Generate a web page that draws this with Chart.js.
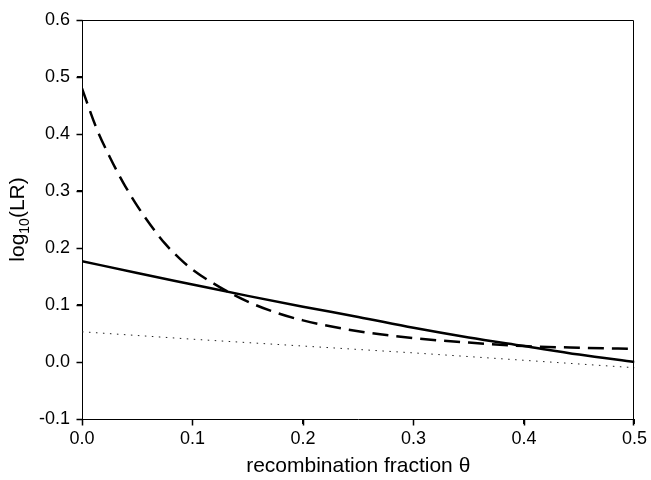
<!DOCTYPE html>
<html>
<head>
<meta charset="utf-8">
<script src="https://cdn.jsdelivr.net/npm/chart.js@4.4.1/dist/chart.umd.min.js"></script>
<style>
  html, body { margin: 0; padding: 0; background: #fff; }
  #wrap { width: 651px; height: 480px; position: relative; }
</style>
</head>
<body>
<div id="wrap"><canvas id="chart-lr"></canvas></div>
<script>
// recombination fraction sample points
const thetaDashed = [0, 0.0125, 0.025, 0.0375, 0.05, 0.0625, 0.075, 0.0875, 0.1, 0.125, 0.15, 0.175, 0.2, 0.25, 0.3, 0.35, 0.4, 0.45, 0.5];
const lrDashed    = [0.480, 0.413, 0.360, 0.314, 0.274, 0.239, 0.208, 0.183, 0.162, 0.131, 0.106, 0.087, 0.073, 0.054, 0.042, 0.034, 0.028, 0.025, 0.023];

const thetaSolid = [0, 0.05, 0.1, 0.15, 0.2, 0.25, 0.3, 0.35, 0.4, 0.45, 0.5];
const lrSolid    = [0.177, 0.156, 0.136, 0.116, 0.097, 0.079, 0.060, 0.043, 0.028, 0.013, 0.000];

const thetaDotted = [0, 0.1, 0.2, 0.3, 0.4, 0.5];
const lrDotted    = [0.053, 0.040, 0.028, 0.016, 0.003, -0.010];

const xTicks = [0, 0.1, 0.2, 0.3, 0.4, 0.5];
const yTicks = [-0.1, 0, 0.1, 0.2, 0.3, 0.4, 0.5, 0.6];

const FONT = "'Liberation Sans', Arial, Helvetica, sans-serif";
const TICK_LEN = 5;

const toPoints = (xs, ys) => xs.map((x, i) => ({ x: x, y: ys[i] }));
const fmt = v => (Math.abs(v) < 1e-9 ? 0 : v).toFixed(1);

// top/right edges of the box plus outward tick marks
const frame = {
    id: 'frame',
    afterDraw(chart) {
        const a = chart.chartArea;
        const ctx = chart.ctx;
        const xs = chart.scales.x;
        const ys = chart.scales.y;
        const l = Math.round(a.left) + 0.5;
        const t = Math.round(a.top) + 0.5;
        const r = Math.round(a.right) - 0.5;
        const b = Math.round(a.bottom) + 0.5;
        ctx.save();
        ctx.strokeStyle = '#000';
        ctx.lineWidth = 1;
        ctx.beginPath();
        ctx.moveTo(l, t);
        ctx.lineTo(r, t);
        ctx.lineTo(r, b);
        ctx.stroke();
        // tick marks
        ctx.lineWidth = 1.5;
        ctx.beginPath();
        xTicks.forEach(v => {
            const px = Math.min(Math.round(xs.getPixelForValue(v)) + 0.5, r);
            ctx.moveTo(px, b);
            ctx.lineTo(px, b + TICK_LEN + 1);
        });
        yTicks.forEach(v => {
            const py = Math.min(Math.round(ys.getPixelForValue(v)) + 0.5, b);
            ctx.moveTo(l, py);
            ctx.lineTo(l - TICK_LEN - 1, py);
        });
        ctx.stroke();
        ctx.restore();
    }
};

// y title with a subscript: log10(LR)
const yTitle = {
    id: 'yTitle',
    afterDraw(chart) {
        const a = chart.chartArea;
        const ctx = chart.ctx;
        const big = '21px ' + FONT;
        const small = '14px ' + FONT;
        ctx.save();
        ctx.fillStyle = '#000';
        ctx.font = big;
        const w1 = ctx.measureText('log').width;
        const w3 = ctx.measureText('(LR)').width;
        ctx.font = small;
        const w2 = ctx.measureText('10').width;
        const total = w1 + w2 + w3;
        ctx.translate(24, (a.top + a.bottom) / 2);
        ctx.rotate(-Math.PI / 2);
        ctx.textBaseline = 'alphabetic';
        ctx.textAlign = 'left';
        let x = -total / 2;
        ctx.font = big;
        ctx.fillText('log', x, 0);
        x += w1;
        ctx.font = small;
        ctx.fillText('10', x, 5);
        x += w2;
        ctx.font = big;
        ctx.fillText('(LR)', x, 0);
        ctx.restore();
    }
};

const gridOpts = {
    display: true,
    drawOnChartArea: false,
    drawTicks: true,
    tickLength: TICK_LEN,
    color: '#000',
    tickColor: '#000',
    lineWidth: 1,
    tickWidth: 1
};

new Chart(document.getElementById('chart-lr'), {
    type: 'line',
    data: {
        datasets: [
            {
                label: 'dashed',
                data: toPoints(thetaDashed, lrDashed),
                borderColor: '#000',
                borderWidth: 2.5,
                borderDash: [16, 8],
                cubicInterpolationMode: 'monotone',
                pointRadius: 0,
                fill: false
            },
            {
                label: 'solid',
                data: toPoints(thetaSolid, lrSolid),
                borderColor: '#000',
                borderWidth: 2.5,
                cubicInterpolationMode: 'monotone',
                pointRadius: 0,
                fill: false
            },
            {
                label: 'dotted',
                data: toPoints(thetaDotted, lrDotted),
                borderColor: '#222',
                borderWidth: 1,
                borderDash: [1.5, 5.5],
                pointRadius: 0,
                fill: false
            }
        ]
    },
    options: {
        responsive: true,
        maintainAspectRatio: false,
        animation: false,
        layout: { padding: { top: 20, right: 15, left: 0, bottom: 0 } },
        plugins: {
            legend: { display: false },
            tooltip: { enabled: false }
        },
        scales: {
            x: {
                type: 'linear',
                min: 0,
                max: 0.5,
                afterFit: s => { s.height = 61; },
                afterBuildTicks: s => { s.ticks = xTicks.map(v => ({ value: v })); },
                ticks: {
                    callback: fmt,
                    color: '#000',
                    padding: 4,
                    maxRotation: 0,
                    font: { family: FONT, size: 18 }
                },
                grid: gridOpts,
                border: { display: true, color: '#000', width: 1 },
                title: {
                    display: true,
                    text: 'recombination fraction θ',
                    color: '#000',
                    font: { family: FONT, size: 21 },
                    padding: { top: 0, bottom: 1 }
                }
            },
            y: {
                type: 'linear',
                min: -0.1,
                max: 0.6,
                afterFit: s => { s.width = 82; },
                afterBuildTicks: s => { s.ticks = yTicks.map(v => ({ value: v })); },
                ticks: {
                    callback: fmt,
                    color: '#000',
                    padding: 7,
                    font: { family: FONT, size: 18 }
                },
                grid: gridOpts,
                border: { display: true, color: '#000', width: 1 }
            }
        }
    },
    plugins: [frame, yTitle]
});
</script>
</body>
</html>
